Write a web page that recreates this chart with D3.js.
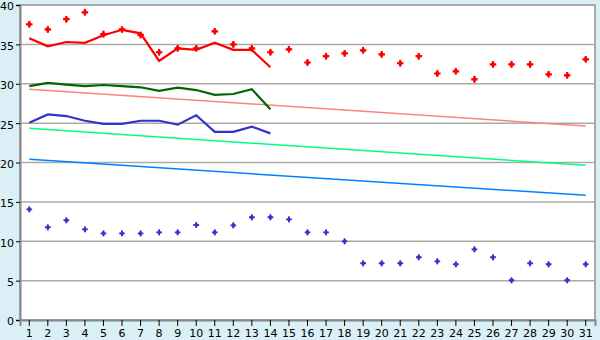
<!DOCTYPE html>
<html>
<head>
<meta charset="utf-8">
<script src="https://cdn.jsdelivr.net/npm/d3@7"></script>
<style>
body{margin:0;background:#daeff6;}
text{font-family:"DejaVu Sans",Verdana,sans-serif;font-size:11px;fill:#000;}
</style>
</head>
<body>
<svg id="chart" width="600" height="340"></svg>
<script>
let days = d3.range(1, 32).map(String);
let yTicks = [0,5,10,15,20,25,30,35,40];

let redPoints = [37.55,36.9,38.2,39.07,36.3,36.9,36.2,34.0,34.5,34.5,36.66,35.0,34.5,34.0,34.37,32.7,33.5,33.86,34.25,33.73,32.6,33.5,31.3,31.58,30.56,32.46,32.46,32.46,31.2,31.07,33.1];
let bluePoints = [14.05,11.77,12.66,11.51,11.0,11.0,11.0,11.13,11.13,12.06,11.13,12.02,13.04,13.04,12.78,11.13,11.13,9.99,7.2,7.2,7.2,7.96,7.45,7.07,8.97,7.96,5.04,7.2,7.07,5.04,7.07];

let redLine = [35.77,34.75,35.3,35.2,36.15,36.85,36.4,32.9,34.5,34.3,35.2,34.3,34.3,32.1];
let greenLine = [29.7,30.1,29.9,29.7,29.84,29.7,29.55,29.1,29.5,29.2,28.6,28.7,29.3,26.75];
let blueLine = [25.05,26.1,25.9,25.3,24.9,24.9,25.3,25.3,24.8,26.0,23.9,23.9,24.55,23.7];

// trend lines: [start day 1, end day 31]
let pinkTrend = [29.3,24.63];
let mintTrend = [24.34,19.64];
let skyTrend = [20.4,15.83];

let margin = {left:20, top:5, right:5, bottom:20};
let W = 600, H = 340;

let svg = d3.select('#chart');

let x = d3.scaleBand().domain(days).range([margin.left, W - margin.right]).paddingInner(0).paddingOuter(0);
let y = d3.scaleLinear().domain([0,40]).range([H - margin.bottom, margin.top]);
let cx = (i) => x(days[i]) + x.bandwidth()/2;

svg.append('rect')
    .attr('x', margin.left).attr('y', margin.top)
    .attr('width', W - margin.left - margin.right)
    .attr('height', H - margin.top - margin.bottom)
    .attr('fill', '#fff')
    .attr('stroke', '#aaa')
    .attr('stroke-width', 2);

// gridlines
svg.append('g').selectAll('line')
    .data(yTicks.slice(1, -1))
    .enter().append('line')
    .attr('x1', margin.left).attr('x2', W - margin.right)
    .attr('y1', d => y(d)).attr('y2', d => y(d))
    .attr('stroke', '#aaa').attr('stroke-width', 1.5);

// axes
let yAxis = svg.append('g')
    .attr('transform', 'translate(' + margin.left + ',0)')
    .call(d3.axisLeft(y).tickValues(yTicks).tickSize(4).tickPadding(2));
yAxis.select('.domain').attr('stroke', '#888').attr('stroke-width', 2);
yAxis.selectAll('.tick line').attr('stroke', '#000');
yAxis.selectAll('.tick text').attr('dy', '0.45em');

let xAxis = svg.append('g')
    .attr('transform', 'translate(0,' + (H - margin.bottom) + ')')
    .call(d3.axisBottom(x).tickSize(6).tickPadding(3));
xAxis.select('.domain').attr('stroke', '#888').attr('stroke-width', 2);
xAxis.selectAll('.tick line').attr('stroke', '#000');
svg.selectAll('.tick text').attr('font-size', 11).attr('font-family', '"DejaVu Sans",Verdana,sans-serif');

// trend lines
let trends = [[pinkTrend,'#ff8080'],[mintTrend,'#00ff80'],[skyTrend,'#0080ff']];
trends.forEach(t => {
    svg.append('line')
        .attr('x1', cx(0)).attr('x2', cx(30))
        .attr('y1', y(t[0][0])).attr('y2', y(t[0][1]))
        .attr('stroke', t[1]).attr('stroke-width', 1.5);
});

// data lines
let line = d3.line().x((d, i) => cx(i)).y(d => y(d));
[[redLine,'#ff0000'],[greenLine,'#006600'],[blueLine,'#3333cc']].forEach(s => {
    svg.append('path')
        .attr('d', line(s[0]))
        .attr('fill', 'none')
        .attr('stroke', s[1])
        .attr('stroke-width', 2.2);
});

// markers: cross with a small diamond centre
function addMarkers(values, color, crossSize, diamondSize) {
    let g = svg.append('g');
    g.selectAll('path.c')
        .data(values).enter().append('path')
        .attr('class', 'c')
        .attr('d', d3.symbol().type(d3.symbolCross).size(crossSize)())
        .attr('transform', (d, i) => 'translate(' + cx(i) + ',' + y(d) + ')')
        .attr('fill', color);
    g.selectAll('path.d')
        .data(values).enter().append('path')
        .attr('class', 'd')
        .attr('d', d3.symbol().type(d3.symbolDiamond).size(diamondSize)())
        .attr('transform', (d, i) => 'translate(' + cx(i) + ',' + y(d) + ')')
        .attr('fill', color);
}
addMarkers(redPoints, '#ff0000', 24, 16);
addMarkers(bluePoints, '#3333cc', 18, 12);
</script>
</body>
</html>
